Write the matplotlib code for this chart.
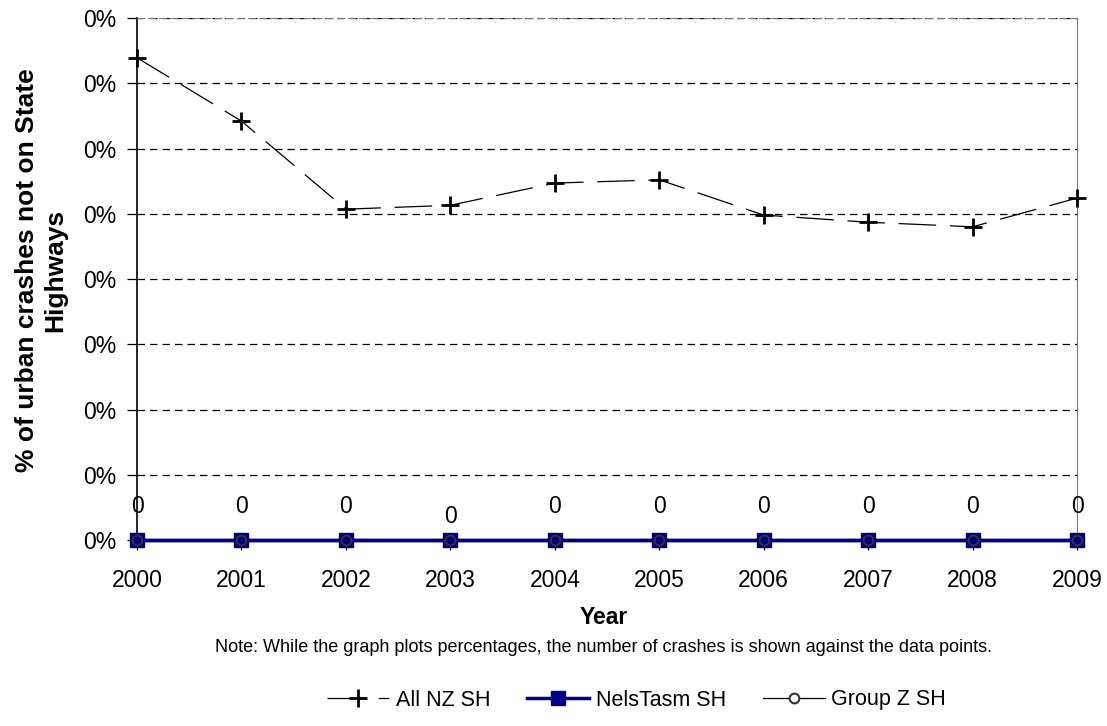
import matplotlib.pyplot as plt
import matplotlib.ticker as mticker

plt.rcParams['font.family'] = ['Liberation Sans', 'DejaVu Sans']

years = [2000, 2001, 2002, 2003, 2004, 2005, 2006, 2007, 2008, 2009]
all_nz = [0.000739, 0.000642, 0.000507, 0.000513, 0.000547, 0.000552, 0.000498, 0.000487, 0.000480, 0.000524]
nelstasm = [0, 0, 0, 0, 0, 0, 0, 0, 0, 0]
group_z = [0, 0, 0, 0, 0, 0, 0, 0, 0, 0]
crash_counts = ['0', '0', '0', '0', '0', '0', '0', '0', '0', '0']
label_offsets = [33, 33, 33, 23, 33, 33, 33, 33, 33, 33]

fig = plt.figure(figsize=(11.07, 7.26), dpi=100)
ax = fig.add_axes([0.1238, 0.2562, 0.8491, 0.719])

for y in [0.0001 * k for k in range(1, 9)]:
    ax.axhline(y, color='black', lw=0.9, dashes=(6, 4), zorder=1)

ax.plot(years, all_nz, color='black', lw=0.9, dashes=(30, 11),
        marker='+', ms=13, mew=2, label='All NZ SH', zorder=3, clip_on=False)
ax.plot(years, nelstasm, color='#000080', lw=2.5, marker='s', ms=10,
        mfc='#000080', mec='#000080', label='NelsTasm SH', zorder=4, clip_on=False)
ax.plot(years, group_z, color='#000080', lw=2.5, marker='o', ms=7,
        mfc='#000080', mec='#333333', mew=1.5, zorder=5, clip_on=False)
# legend proxy for Group Z SH
ax.plot([], [], color='black', lw=0.9, marker='o', ms=7, mfc='white',
        mec='#333333', mew=1.5, label='Group Z SH')

for x, y, t, off in zip(years, group_z, crash_counts, label_offsets):
    ax.annotate(t, (x, y), xytext=(0, off), textcoords='offset pixels',
                ha='center', va='center', fontsize=16.5, zorder=6)

ax.set_xlim(2000, 2009)
ax.set_ylim(0, 0.0008)
ax.set_xticks(years)
ax.set_yticks([0.0001 * k for k in range(9)])
ax.yaxis.set_major_formatter(mticker.FuncFormatter(lambda v, p: '%d%%' % round(v * 100)))
ax.tick_params(axis='both', labelsize=16.5, length=7, width=0.9)
ax.tick_params(axis='x', pad=14)
ax.tick_params(axis='y', pad=8)

for s in ['top', 'right']:
    ax.spines[s].set_color('#777777')
ax.spines['top'].set_linestyle((0, (6, 4)))
ax.spines['left'].set_linewidth(1.2)

fig.text(41 / 1107, 1 - 270 / 726, '% of urban crashes not on State\nHighways',
         rotation=90, ha='center', va='center', multialignment='center',
         fontsize=19, fontweight='bold', linespacing=1.25)
fig.text(0.545, 1 - 618 / 726, 'Year', ha='center', va='center',
         fontsize=16.5, fontweight='bold')
fig.text(0.545, 1 - 648 / 726, 'Note: While the graph plots percentages, the number of crashes is shown against the data points.',
         ha='center', va='center', fontsize=13)

fig.legend(loc='center', bbox_to_anchor=(0.575, 1 - 700 / 726), ncol=3, frameon=False,
           fontsize=15.5, handlelength=2.9, columnspacing=1.7, handletextpad=0.3)

fig.savefig('out.png', dpi=100)
